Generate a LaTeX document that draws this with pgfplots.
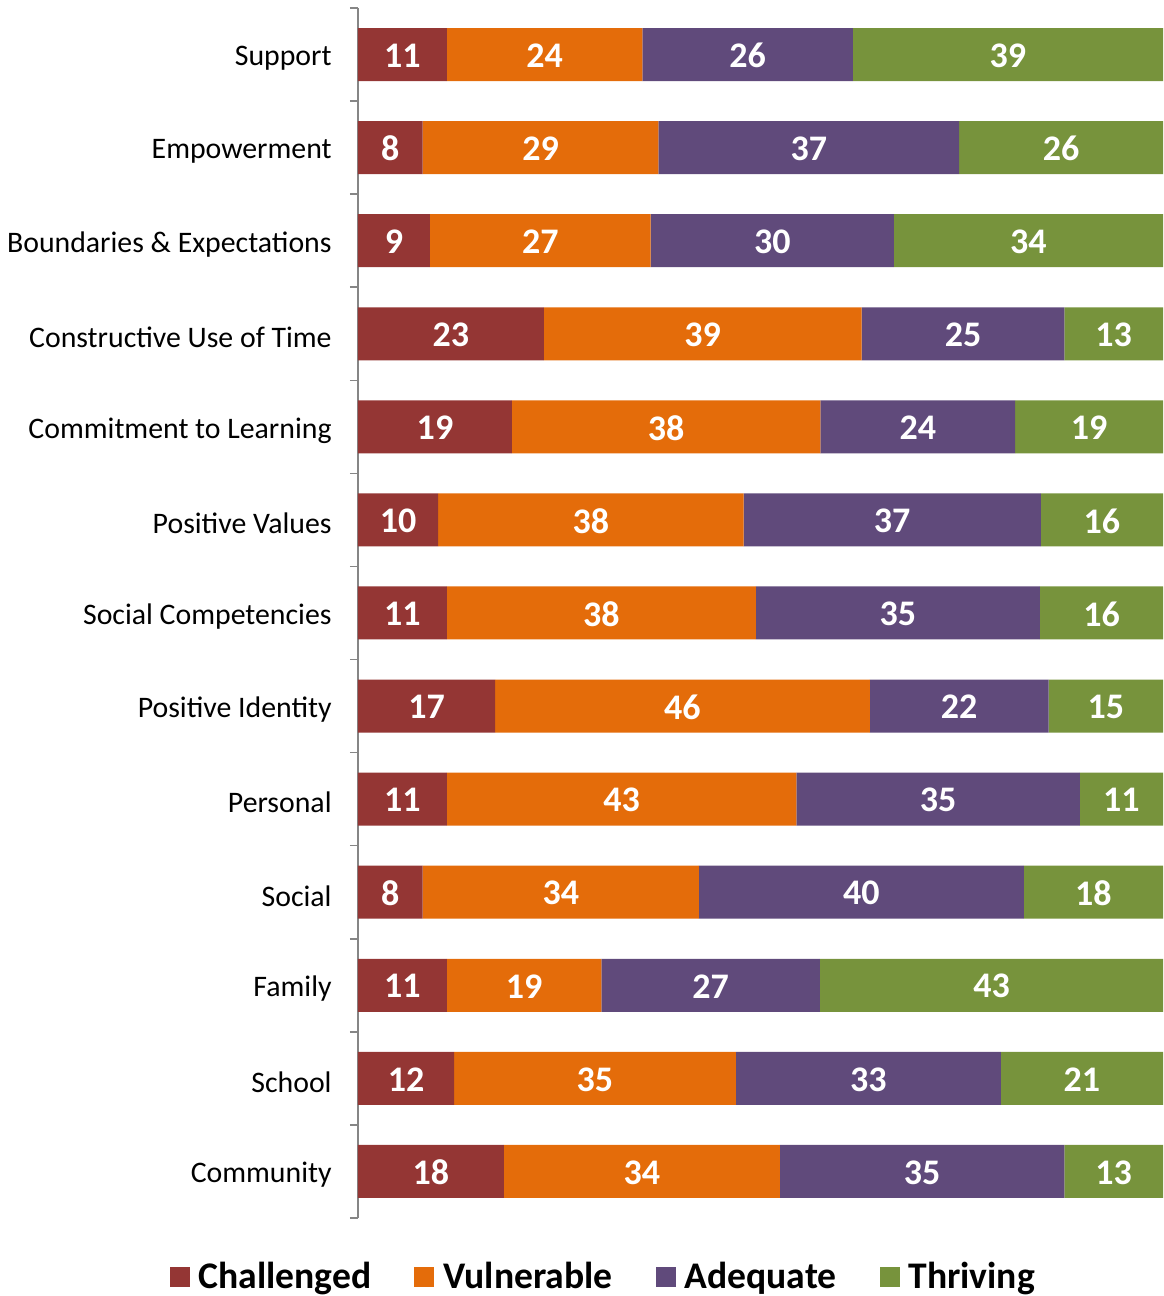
\documentclass[border=0pt]{standalone}
\usepackage{pgfplots}
\pgfplotsset{compat=1.18}
\usepackage{pgfplotstable}
\usepackage{fontspec}
\setmainfont{Carlito}

\definecolor{challenged}{HTML}{943634}
\definecolor{vulnerable}{HTML}{E46C0A}
\definecolor{adequate}{HTML}{604A7B}
\definecolor{thriving}{HTML}{77933C}
\definecolor{axisgray}{HTML}{868686}

% rows bottom to top: Community ... Support
% c v a t = segment widths (percent), cl vl al tl = printed labels
\pgfplotstableread{
y c v a t cl vl al tl
0 18.11 34.31 35.33 12.25 18 34 35 13
1 11.93 35.01 32.91 20.15 12 35 33 21
2 11.03 19.19 27.17 42.61 11 19 27 43
3 8.04 34.31 40.36 17.29 8 34 40 18
4 11.03 43.43 35.20 10.34 11 43 35 11
5 17.03 46.55 22.20 14.22 17 46 22 15
6 11.03 38.39 35.30 15.28 11 38 35 16
7 9.95 37.94 36.93 15.18 10 38 37 16
8 19.13 38.32 24.17 18.38 19 38 24 19
9 23.08 39.48 25.19 12.25 23 39 25 13
10 8.93 27.42 30.22 33.43 9 27 30 34
11 8.04 29.27 37.37 25.32 8 29 37 26
12 11.03 24.30 26.15 38.52 11 24 26 39
}\assets

\begin{document}
\begin{tikzpicture}
\begin{axis}[
    at={(0,0)}, anchor=south west,
    scale only axis,
    width=402.5pt, height=605pt,
    xbar stacked,
    bar width=26.5pt,
    xmin=0, xmax=100,
    ymin=-0.5, ymax=12.5,
    clip=false,
    axis x line=none,
    axis y line*=left,
    y axis line style={draw=axisgray, line width=0.75pt, -},
    ytick={0,...,12},
    yticklabels={Community,School,Family,Social,Personal,Positive Identity,Social Competencies,Positive Values,Commitment to Learning,Constructive Use of Time,Boundaries \& Expectations,Empowerment,Support},
    major tick length=0pt,
    minor ytick={-0.5,0.5,...,12.5},
    minor tick length=4pt,
    tick align=outside,
    tick style={draw=axisgray, line width=0.75pt},
    yticklabel style={font=\fontsize{14.9}{17}\selectfont, inner sep=0pt, xshift=-13pt, yshift=-1.8pt},
    /pgf/number format/assume math mode=true,
    point meta=explicit,
    nodes near coords,
    every node near coord/.append style={font=\fontsize{18}{20}\selectfont\bfseries, text=white, yshift=-0.5pt},
    legend style={draw=none, at={(0.306,-0.0488)}, anchor=center,
        font=\fontsize{18.8}{21}\selectfont\bfseries,
        /tikz/every odd column/.append style={column sep=2.5pt},
        /tikz/every even column/.append style={column sep=19.5pt}},
    legend columns=4,
    legend image code/.code={\fill[#1] (0pt,-5pt) rectangle (10pt,5pt);},
]
\addplot[fill=challenged, draw=none] table[x=c, y=y, meta=cl] {\assets};
\addplot[fill=vulnerable, draw=none] table[x=v, y=y, meta=vl] {\assets};
\addplot[fill=adequate, draw=none] table[x=a, y=y, meta=al] {\assets};
\addplot[fill=thriving, draw=none] table[x=t, y=y, meta=tl] {\assets};
\legend{Challenged,Vulnerable,Adequate,Thriving}
\end{axis}
\pgfresetboundingbox
\useasboundingbox (-179pt,-39pt) rectangle (402.5pt,609pt);
\end{tikzpicture}
\end{document}
